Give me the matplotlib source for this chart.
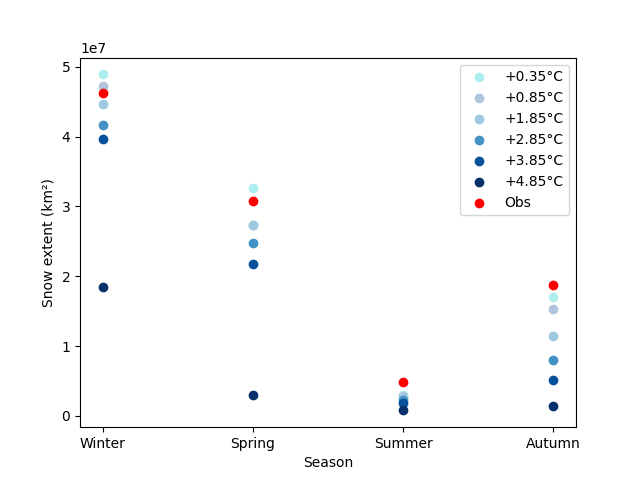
import numpy as np
from matplotlib import pyplot as plt

seasons = ["Winter", "Spring", "Summer", "Autumn"]
labels = ["+0.35°C", "+0.85°C", "+1.85°C", "+2.85°C", "+3.85°C", "+4.85°C"]
colors = ["#afeeee", "#b0c4de", "#9ecae1", "#4292c6", "#08519c", "#08306b"]

# snow extent per warming level (km2)
w035 = [4.89e7, 3.26e7, 0.30e7, 1.70e7]
w085 = [4.72e7, 2.74e7, 0.28e7, 1.53e7]
w185 = [4.47e7, 2.74e7, 0.26e7, 1.15e7]
w285 = [4.17e7, 2.47e7, 0.23e7, 0.80e7]
w385 = [3.97e7, 2.18e7, 0.19e7, 0.51e7]
w485 = [1.84e7, 0.30e7, 0.08e7, 0.14e7]
obs = [4.62e7, 3.08e7, 0.48e7, 1.87e7]

runs = [w035, w085, w185, w285, w385, w485]

for vals, lab, c in zip(runs, labels, colors):
    plt.scatter(seasons, vals, color=c, label=lab)
plt.scatter(seasons, obs, color="red", label="Obs")

plt.xlabel("Season")
plt.ylabel("Snow extent (km²)")
plt.legend()
plt.savefig("out.png")
